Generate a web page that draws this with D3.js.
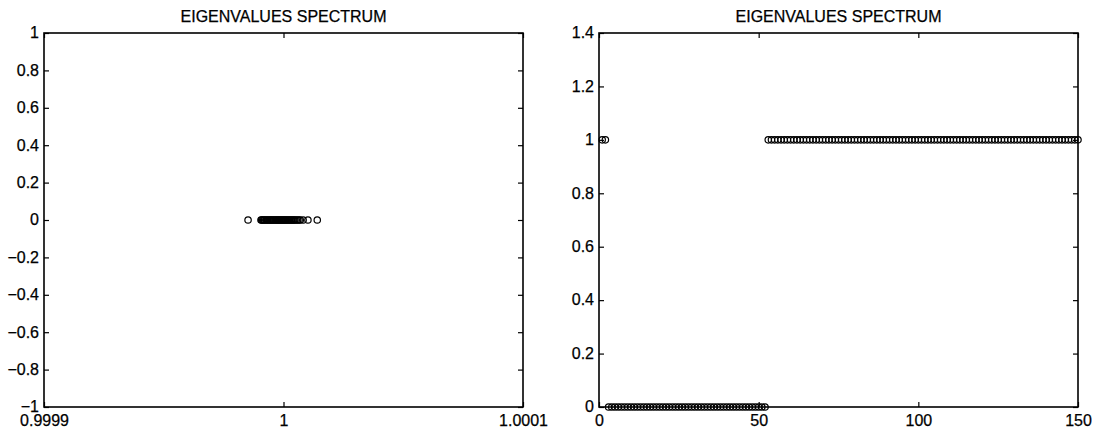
<!DOCTYPE html>
<html>
<head>
<meta charset="utf-8">
<script src="https://cdn.jsdelivr.net/npm/d3@7"></script>
<style>
  html, body { margin: 0; padding: 0; background: #fff; }
  svg text { font-family: "Liberation Sans", Arial, Helvetica, sans-serif; fill: #000; }
</style>
</head>
<body>
<svg id="fig" width="1106" height="433"></svg>
<script>
// Left panel: eigenvalues clustered around 1 on the real axis
const leftRe = [
  0.9999852, 0.9999906, 0.9999909, 0.9999913, 0.9999917, 0.9999921, 0.9999926,
  0.9999930, 0.9999934, 0.9999939, 0.9999943, 0.9999947, 0.9999951, 0.9999955,
  0.9999959, 0.9999964, 0.9999968, 0.9999972, 0.9999976, 0.9999980, 0.9999984,
  0.9999988, 0.9999992, 0.9999996, 1.0000000, 1.0000004, 1.0000008, 1.0000012,
  1.0000017, 1.0000021, 1.0000025, 1.0000030, 1.0000034, 1.0000039, 1.0000043,
  1.0000048, 1.0000053, 1.0000059, 1.0000065, 1.0000070, 1.0000082, 1.0000102,
  1.0000141
];
const leftIm = [
  0, 0, 0, 0, 0, 0, 0, 0, 0, 0, 0, 0, 0, 0, 0, 0, 0, 0, 0, 0, 0, 0,
  0, 0, 0, 0, 0, 0, 0, 0, 0, 0, 0, 0, 0, 0, 0, 0, 0, 0, 0, 0, 0
];
const leftXTicks = [0.9999, 1, 1.0001];
const leftXTickLabels = ["0.9999", "1", "1.0001"];
const leftYTicks = [-1, -0.8, -0.6, -0.4, -0.2, 0, 0.2, 0.4, 0.6, 0.8, 1];

// Right panel: eigenvalue magnitude by index 1..150
const rightValues = [
  1, 1,
  0, 0, 0, 0, 0, 0, 0, 0, 0, 0, 0, 0, 0, 0, 0, 0, 0, 0, 0, 0, 0, 0, 0, 0, 0,
  0, 0, 0, 0, 0, 0, 0, 0, 0, 0, 0, 0, 0, 0, 0, 0, 0, 0, 0, 0, 0, 0, 0, 0, 0,
  1, 1, 1, 1, 1, 1, 1, 1, 1, 1, 1, 1, 1, 1, 1, 1, 1, 1, 1, 1, 1, 1, 1, 1, 1,
  1, 1, 1, 1, 1, 1, 1, 1, 1, 1, 1, 1, 1, 1, 1, 1, 1, 1, 1, 1, 1, 1, 1, 1, 1,
  1, 1, 1, 1, 1, 1, 1, 1, 1, 1, 1, 1, 1, 1, 1, 1, 1, 1, 1, 1, 1, 1, 1, 1, 1,
  1, 1, 1, 1, 1, 1, 1, 1, 1, 1, 1, 1, 1, 1, 1, 1, 1, 1, 1, 1, 1, 1, 1
];
const rightXTicks = [0, 50, 100, 150];
const rightYTicks = [0, 0.2, 0.4, 0.6, 0.8, 1, 1.2, 1.4];

const titleText = "EIGENVALUES SPECTRUM";

const svg = d3.select("#fig");
svg.append("rect").attr("width", 1106).attr("height", 433).attr("fill", "#fff");

const FONT = 16;
const fmtY = v => {
  const s = d3.format("~g")(Math.round(v * 10) / 10);
  return s.replace("-", "\u2212");
};

function panel(opt) {
  const { x0, x1, y0, y1, xDomain, yDomain, xTicks, xLabels, yTicks, pts } = opt;
  const g = svg.append("g");
  const x = d3.scaleLinear().domain(xDomain).range([x0, x1]);
  const y = d3.scaleLinear().domain(yDomain).range([y1, y0]);
  const tick = 5;

  // frame
  g.append("rect")
    .attr("x", x0).attr("y", y0)
    .attr("width", x1 - x0).attr("height", y1 - y0)
    .attr("fill", "none").attr("stroke", "#000").attr("stroke-width", 1.6);

  // inward ticks on all four sides
  const bottom = d3.axisBottom(x).tickValues(xTicks).tickSize(-tick).tickFormat((d, i) => xLabels[i]);
  const top = d3.axisTop(x).tickValues(xTicks).tickSize(-tick).tickFormat("");
  const left = d3.axisLeft(y).tickValues(yTicks).tickSize(-tick).tickFormat(fmtY);
  const right = d3.axisRight(y).tickValues(yTicks).tickSize(-tick).tickFormat("");

  const style = sel => {
    sel.select(".domain").remove();
    sel.selectAll(".tick line").attr("stroke", "#000").attr("stroke-width", 1.2);
    sel.selectAll("text").attr("font-size", FONT).attr("fill", "#000")
      .attr("stroke", "#000").attr("stroke-width", 0.25)
      .style("font-family", "'Liberation Sans', Arial, sans-serif");
  };
  g.append("g").attr("transform", `translate(0,${y1})`).call(bottom).call(style)
    .selectAll("text").attr("dy", "0.95em").attr("y", 4);
  g.append("g").attr("transform", `translate(0,${y0})`).call(top).call(style);
  g.append("g").attr("transform", `translate(${x0},0)`).call(left).call(style)
    .selectAll("text").attr("x", -5).attr("dy", "0.3em");
  g.append("g").attr("transform", `translate(${x1},0)`).call(right).call(style);

  // title
  g.append("text")
    .attr("x", (x0 + x1) / 2).attr("y", y0 - 11)
    .attr("text-anchor", "middle").attr("font-size", FONT)
    .attr("stroke", "#000").attr("stroke-width", 0.25)
    .text(titleText);

  // open circle markers
  g.append("g").selectAll("circle").data(pts).join("circle")
    .attr("cx", d => x(d[0])).attr("cy", d => y(d[1]))
    .attr("r", 3.2)
    .attr("fill", "none").attr("stroke", "#000").attr("stroke-width", 1.2);
}

panel({
  x0: 44, x1: 523, y0: 33, y1: 407,
  xDomain: [0.9999, 1.0001], yDomain: [-1, 1],
  xTicks: leftXTicks, xLabels: leftXTickLabels, yTicks: leftYTicks,
  pts: leftRe.map((v, i) => [v, leftIm[i]])
});

panel({
  x0: 599, x1: 1078, y0: 33, y1: 407,
  xDomain: [0, 150], yDomain: [0, 1.4],
  xTicks: rightXTicks, xLabels: rightXTicks.map(String), yTicks: rightYTicks,
  pts: rightValues.map((v, i) => [i + 1, v])
});
</script>
</body>
</html>
